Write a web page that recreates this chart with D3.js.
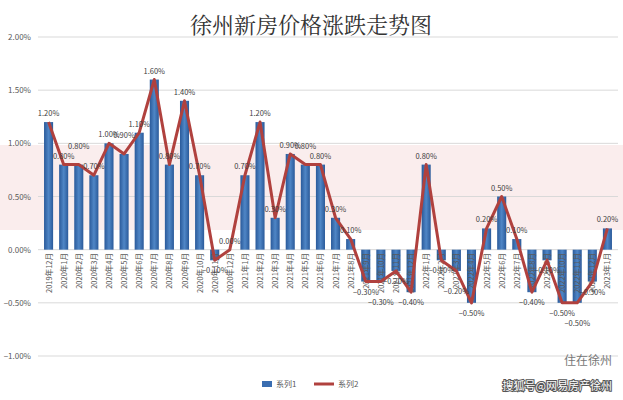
<!DOCTYPE html>
<html><head><meta charset="utf-8">
<script src="https://cdn.jsdelivr.net/npm/d3@7"></script>
<style>body{margin:0;background:#fff}text{font-family:"Noto Sans CJK SC","Noto Sans",sans-serif}</style>
</head><body><svg id="c" width="623" height="400"></svg>
<script>
var months = ["2019年12月"];
[2020, 2021, 2022].forEach(function (y) {
  for (var m = 1; m <= 12; m++) months.push(y + "年" + m + "月");
});
months.push("2023年1月");
// monthly change, percent
var values = [1.2, 0.8, 0.8, 0.7, 1.0, 0.9, 1.1, 1.6, 0.8, 1.4, 0.7, -0.1,
  0.0, 0.7, 1.2, 0.3, 0.9, 0.8, 0.8, 0.3, 0.1, -0.3, -0.3, -0.2,
  -0.4, 0.8, -0.1, -0.2, -0.5, 0.2, 0.5, 0.1, -0.4, -0.1, -0.5, -0.5,
  -0.3, 0.2];
var yTicks = [-1, -0.5, 0, 0.5, 1, 1.5, 2];

var svg = d3.select("#c");
var x = d3.scaleBand().domain(months).range([38, 618]).padding(0.4);
var y = d3.scaleLinear().domain([-1, 2]).range([356, 37]);

svg.append("text").attr("x", 311).attr("y", 33).attr("text-anchor", "middle")
  .attr("font-size", 22).attr("fill", "#333")
  .style("font-family", "'Noto Serif CJK SC','Noto Sans CJK SC',serif")
  .text("徐州新房价格涨跌走势图");

svg.append("rect").attr("x", 0).attr("y", 145).attr("width", 623).attr("height", 85)
  .attr("fill", "#f9e9e9").attr("opacity", 0.8);

svg.selectAll(".grid").data(yTicks).enter().append("line")
  .attr("x1", 38).attr("x2", 618)
  .attr("y1", function (d) { return y(d); }).attr("y2", function (d) { return y(d); })
  .attr("stroke", "#d9d9d9");
svg.selectAll(".yl").data(yTicks).enter().append("text")
  .attr("x", 31).attr("y", function (d) { return y(d) + 3; })
  .attr("text-anchor", "end").attr("font-size", 8).attr("fill", "#595959")
  .text(function (d) { return d3.format(".2f")(d) + "%"; });

var grad = svg.append("defs").append("linearGradient").attr("id", "g");
grad.append("stop").attr("offset", "0").attr("stop-color", "#2a5a9a");
grad.append("stop").attr("offset", "0.5").attr("stop-color", "#4f86c6");
grad.append("stop").attr("offset", "1").attr("stop-color", "#2a5a9a");

svg.selectAll(".bar").data(values).enter().append("rect")
  .attr("x", function (d, i) { return x(months[i]); })
  .attr("width", x.bandwidth())
  .attr("y", function (d) { return y(Math.max(0, d)); })
  .attr("height", function (d) { return Math.abs(y(d) - y(0)); })
  .attr("fill", "url(#g)");

svg.selectAll(".xl").data(months).enter().append("text")
  .attr("transform", function (d) {
    return "translate(" + (x(d) + x.bandwidth() / 2 + 3) + ",253) rotate(-90)";
  })
  .attr("text-anchor", "end").attr("font-size", 7.5).attr("fill", "#595959")
  .text(function (d) { return d; });

var line = d3.line()
  .x(function (d, i) { return x(months[i]) + x.bandwidth() / 2; })
  .y(function (d) { return y(d); });
svg.append("path").datum(values).attr("d", line).attr("fill", "none")
  .attr("stroke", "#b0413e").attr("stroke-width", 3).attr("stroke-linejoin", "round");

// stagger labels when a neighbour sits at a similar height
var stagger = values.map(function () { return 0; });
for (var i = 1; i < values.length; i++) {
  var close = Math.abs(values[i] - values[i - 1]) <= 0.1 && (values[i] < 0) == (values[i - 1] < 0);
  if (close && stagger[i - 1] == 0) stagger[i] = 10;
}
svg.selectAll(".dl").data(values).enter().append("text")
  .attr("x", function (d, i) { return x(months[i]) + x.bandwidth() / 2; })
  .attr("y", function (d, i) { return d >= 0 ? y(d) - 6 - stagger[i] : y(d) + 13 + stagger[i]; })
  .attr("text-anchor", "middle").attr("font-size", 7.5).attr("fill", "#404040")
  .text(function (d) { return d3.format(".2f")(d) + "%"; });

var lg = svg.append("g").attr("transform", "translate(262,384)");
lg.append("rect").attr("x", 0).attr("y", -3).attr("width", 10).attr("height", 6).attr("fill", "#3a6db0");
lg.append("text").attr("x", 14).attr("y", 3).attr("font-size", 8).attr("fill", "#595959").text("系列1");
lg.append("line").attr("x1", 52).attr("x2", 72).attr("y1", 0).attr("y2", 0).attr("stroke", "#b0413e").attr("stroke-width", 3);
lg.append("text").attr("x", 76).attr("y", 3).attr("font-size", 8).attr("fill", "#595959").text("系列2");

svg.append("text").attr("x", 612).attr("y", 365).attr("text-anchor", "end")
  .attr("font-size", 12).attr("fill", "#777").text("住在徐州");
svg.append("text").attr("x", 612).attr("y", 390).attr("text-anchor", "end")
  .attr("font-size", 11).attr("fill", "#fff").attr("stroke", "#555").attr("stroke-width", 2)
  .attr("paint-order", "stroke").text("搜狐号@网易房产徐州");
</script></body></html>
